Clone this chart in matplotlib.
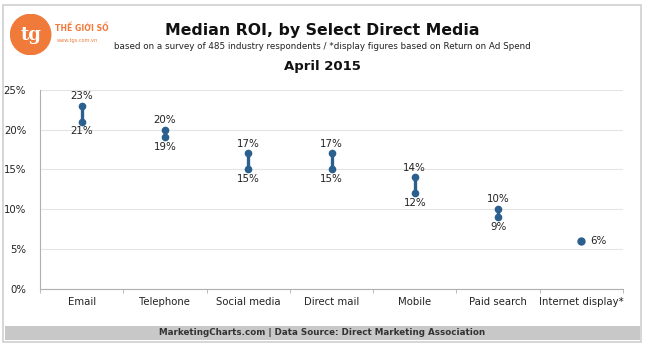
import numpy as np
import matplotlib.pyplot as plt
from matplotlib.patches import Circle, Rectangle

categories = ['Email', 'Telephone', 'Social media', 'Direct mail', 'Mobile',
              'Paid search', 'Internet display*']
low_roi = [21, 19, 15, 15, 12, 9, 6]
high_roi = [23, 20, 17, 17, 14, 10, 6]
y_ticks = [0, 5, 10, 15, 20, 25]

blue = '#2b5f8e'
grid_color = '#e4e4e4'

fig = plt.figure(figsize=(6.45, 3.45), dpi=100)
fig.patch.set_facecolor('white')

# outer frame and footer band
fig.add_artist(Rectangle((0.004, 0.01), 0.99, 0.975, transform=fig.transFigure,
                         fill=False, edgecolor='#cfcfcf', lw=1.2))
fig.add_artist(Rectangle((0.008, 0.015), 0.985, 0.04, transform=fig.transFigure,
                         facecolor='#c8c8c8', edgecolor='none'))
fig.text(0.5, 0.035, 'MarketingCharts.com | Data Source: Direct Marketing Association',
         ha='center', va='center', fontsize=6.3, fontweight='bold', color='#333333')

# titles
fig.text(0.5, 0.912, 'Median ROI, by Select Direct Media', ha='center', va='center',
         fontsize=11.3, fontweight='bold', color='#111111')
fig.text(0.5, 0.866, 'based on a survey of 485 industry respondents / *display figures based on Return on Ad Spend',
         ha='center', va='center', fontsize=6.3, color='#222222')
fig.text(0.5, 0.808, 'April 2015', ha='center', va='center', fontsize=9.5,
         fontweight='bold', color='#111111')

# logo
logo_ax = fig.add_axes([0.015, 0.83, 0.065, 0.14])
logo_ax.set_xlim(0, 1)
logo_ax.set_ylim(0, 1)
logo_ax.set_aspect('equal')
logo_ax.axis('off')
logo_ax.add_patch(Circle((0.5, 0.5), 0.48, color='#f07a3a'))
logo_ax.text(0.5, 0.48, 'tg', ha='center', va='center', fontsize=13, color='white',
             family='DejaVu Serif', fontweight='bold')
fig.text(0.086, 0.918, 'THẾ GIỚI SỐ', ha='left', va='center', fontsize=5.6,
         color='#f07a3a', fontweight='bold', family='DejaVu Sans Condensed')
fig.text(0.088, 0.884, 'www.tgs.com.vn', ha='left', va='center', fontsize=3.6,
         color='#f07a3a')

# main chart
ax = fig.add_axes([0.062, 0.163, 0.904, 0.577])
x = np.arange(len(categories))
for xi, lo, hi in zip(x, low_roi, high_roi):
    if lo == hi:
        ax.plot([xi], [lo], 'o', color=blue, ms=5, zorder=3)
        ax.text(xi + 0.1, lo, f'{lo}%', ha='left', va='center', fontsize=7.4,
                color='#222222')
    else:
        ax.plot([xi, xi], [lo, hi], '-o', color=blue, lw=2.4, ms=4.5,
                solid_capstyle='round', zorder=3)
        ax.text(xi, hi + 0.6, f'{hi}%', ha='center', va='bottom', fontsize=7.4,
                color='#222222')
        ax.text(xi, lo - 0.6, f'{lo}%', ha='center', va='top', fontsize=7.4,
                color='#222222')

ax.set_xlim(-0.5, len(categories) - 0.5)
ax.set_ylim(0, 25)
ax.set_yticks(y_ticks)
ax.set_yticklabels([f'{t}%' for t in y_ticks])
ax.set_xticks(x)
ax.set_xticklabels(categories)
ax.set_xticks(np.arange(-0.5, len(categories)), minor=True)
ax.tick_params(axis='x', which='major', length=0, pad=6, labelsize=7.3,
               labelcolor='#222222')
ax.tick_params(axis='x', which='minor', length=3, color='#b0b0b0')
ax.tick_params(axis='y', length=0, pad=10, labelsize=7.3, labelcolor='#222222')
ax.grid(axis='y', color=grid_color, lw=0.8)
ax.set_axisbelow(True)
for side in ['top', 'right']:
    ax.spines[side].set_visible(False)
ax.spines['left'].set_color('#b0b0b0')
ax.spines['bottom'].set_color('#b0b0b0')

fig.savefig('out.png', dpi=100)
